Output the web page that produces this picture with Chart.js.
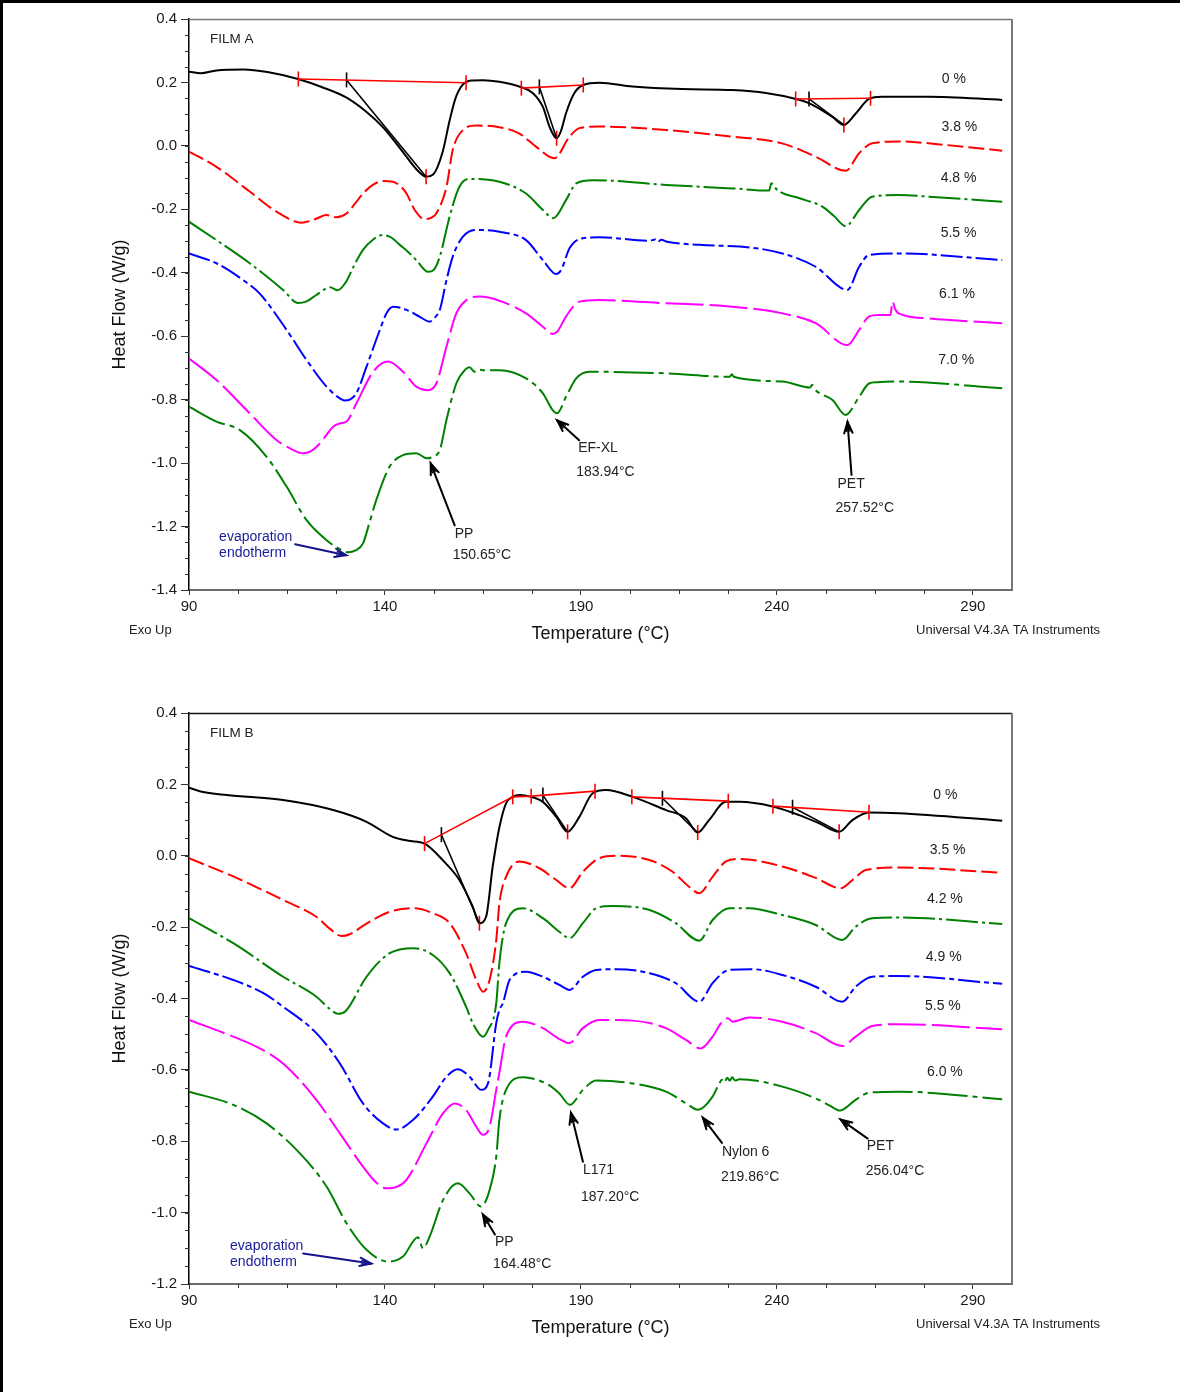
<!DOCTYPE html>
<html>
<head>
<meta charset="utf-8">
<title>DSC thermograms – Film A and Film B</title>
<script src="https://cdn.jsdelivr.net/npm/chart.js@4.4.0/dist/chart.umd.min.js"></script>
<style>
  html, body { margin: 0; padding: 0; background: #fff; }
  body { width: 1180px; height: 1392px; position: relative; overflow: hidden; }
  canvas { position: absolute; left: 0; }
  #edgeTop { position: absolute; left: 0; top: 0; width: 1180px; height: 3px; background: #000; }
  #edgeLeft { position: absolute; left: 0; top: 0; width: 3px; height: 1392px; background: #000; }
</style>
</head>
<body>
<canvas id="filmA" width="1180" height="696" style="top:0px"></canvas>
<canvas id="filmB" width="1180" height="696" style="top:694px"></canvas>
<div id="edgeTop"></div>
<div id="edgeLeft"></div>
<script>
// ---------------------------------------------------------------------------
// Data: heat flow (W/g) against temperature (°C), one array per loading
// ---------------------------------------------------------------------------
const TEMPERATURE_TICKS = [90, 140, 190, 240, 290];
const FILM_A_HF_TICKS = [-1.4, -1.2, -1.0, -0.8, -0.6, -0.4, -0.2, 0.0, 0.2, 0.4];
const FILM_B_HF_TICKS = [-1.2, -1.0, -0.8, -0.6, -0.4, -0.2, 0.0, 0.2, 0.4];

const FILM_A_LOADINGS = ['0 %', '3.8 %', '4.8 %', '5.5 %', '6.1 %', '7.0 %'];
const FILM_B_LOADINGS = ['0 %', '3.5 %', '4.2 %', '4.9 %', '5.5 %', '6.0 %'];

const filmA_0 = [[90,0.234],[93,0.229],[97,0.238],[104,0.241],[110,0.233],[117.8,0.211],[124,0.185],[130.2,0.152],[135,0.11],[139.4,0.06],[144,-0.01],[148.5,-0.08],[150.5,-0.097],[152.3,-0.09],[154.7,-0.02],[156.5,0.08],[158,0.15],[159.8,0.192],[162,0.206],[165,0.207],[169.2,0.202],[174.8,0.185],[177.7,0.167],[180.3,0.123],[182,0.06],[183.8,0.024],[185,0.05],[186.2,0.103],[188.3,0.166],[190.6,0.192],[194.7,0.199],[203.2,0.187],[215.9,0.179],[228.6,0.176],[237.2,0.167],[244.9,0.148],[248.2,0.135],[254.1,0.092],[257.1,0.066],[260.2,0.103],[263.5,0.148],[266.8,0.155],[278.8,0.155],[297.5,0.145]];
const filmA_38 = [[90,-0.018],[97,-0.066],[105.5,-0.144],[112.3,-0.207],[118.7,-0.242],[122,-0.232],[125.1,-0.218],[127.6,-0.225],[130.2,-0.213],[132.5,-0.18],[134.4,-0.15],[137,-0.122],[139.5,-0.111],[142,-0.113],[144,-0.128],[145.5,-0.15],[147.6,-0.202],[150.1,-0.231],[152,-0.225],[153.1,-0.213],[155.7,-0.129],[157.3,-0.013],[159.9,0.05],[163.3,0.064],[169.2,0.059],[174.3,0.039],[178.6,-0.003],[183.2,-0.039],[187.1,0.029],[189.6,0.056],[194.7,0.061],[211.7,0.05],[228.6,0.029],[241.3,0.008],[249.9,-0.034],[257.6,-0.078],[261,-0.023],[264.3,0.008],[271.1,0.014],[283,0.003],[297.5,-0.015]];
const filmA_48 = [[90,-0.239],[97,-0.297],[105.5,-0.37],[114,-0.454],[117.8,-0.495],[120,-0.49],[122.5,-0.47],[126,-0.446],[128,-0.455],[130,-0.43],[132,-0.38],[134.4,-0.328],[137,-0.295],[139.4,-0.281],[141.5,-0.288],[143.8,-0.312],[146,-0.335],[148,-0.36],[151,-0.397],[152.5,-0.39],[154,-0.349],[156.5,-0.223],[159,-0.129],[161.6,-0.104],[165,-0.105],[169.2,-0.113],[176,-0.15],[180.3,-0.202],[183,-0.228],[186.2,-0.171],[188.8,-0.118],[193,-0.108],[211.7,-0.123],[228.7,-0.134],[238,-0.141],[238.6,-0.118],[239.3,-0.128],[240.3,-0.141],[245.8,-0.165],[251.7,-0.192],[254.5,-0.22],[257.6,-0.253],[261,-0.202],[264.3,-0.16],[271.1,-0.155],[278.8,-0.16],[297.5,-0.176]];
const filmA_55 = [[90,-0.339],[97,-0.37],[103.8,-0.423],[108,-0.465],[114.9,-0.58],[120,-0.675],[125.1,-0.759],[128.5,-0.796],[129.7,-0.803],[131,-0.8],[132.7,-0.78],[135.3,-0.696],[138.7,-0.58],[140.5,-0.525],[142.1,-0.507],[145.5,-0.517],[148.9,-0.539],[151.4,-0.554],[152.8,-0.54],[154,-0.517],[155.7,-0.423],[157.3,-0.349],[159.9,-0.286],[163.3,-0.265],[169.2,-0.271],[176,-0.297],[180.3,-0.36],[183.7,-0.404],[185,-0.39],[187.1,-0.323],[190.5,-0.291],[194.7,-0.288],[207.5,-0.299],[209,-0.295],[209.6,-0.303],[210.5,-0.296],[212,-0.302],[220.2,-0.312],[233,-0.32],[241.4,-0.339],[249.9,-0.381],[258,-0.454],[261,-0.381],[263.5,-0.344],[271.1,-0.339],[297.5,-0.36]];
const filmA_61 = [[90,-0.67],[97,-0.738],[105.5,-0.843],[112.3,-0.927],[116,-0.955],[119.1,-0.969],[121,-0.963],[123.4,-0.938],[126.8,-0.885],[128.5,-0.875],[130.2,-0.869],[132.7,-0.812],[137,-0.712],[140.8,-0.68],[144.6,-0.712],[148,-0.759],[151,-0.77],[153.1,-0.749],[155.7,-0.633],[158.2,-0.528],[160.8,-0.486],[164.1,-0.475],[169.2,-0.488],[176,-0.528],[180.3,-0.57],[182.8,-0.593],[184,-0.585],[186.2,-0.538],[189.6,-0.491],[194.7,-0.486],[211.7,-0.496],[228.7,-0.507],[241.4,-0.528],[249.9,-0.559],[258,-0.628],[261,-0.58],[263.5,-0.538],[266,-0.533],[269,-0.533],[269.5,-0.491],[270.2,-0.515],[271.1,-0.528],[278.8,-0.544],[297.5,-0.559]];
const filmA_70 = [[90,-0.822],[97,-0.869],[103,-0.896],[109.8,-0.98],[114.9,-1.074],[120,-1.18],[125.1,-1.243],[128,-1.268],[130.6,-1.281],[132.5,-1.275],[134.4,-1.253],[136,-1.19],[137.8,-1.116],[141.2,-1.011],[144.6,-0.975],[148,-0.969],[150.65,-0.985],[152.5,-0.978],[154,-0.959],[155.7,-0.864],[158.2,-0.749],[160.5,-0.705],[161.6,-0.698],[162.9,-0.712],[163.6,-0.705],[165,-0.707],[169.2,-0.707],[176,-0.733],[180.3,-0.78],[182.8,-0.833],[183.94,-0.843],[186.2,-0.791],[188.8,-0.733],[192.2,-0.712],[211.7,-0.717],[228,-0.728],[228.5,-0.72],[229,-0.728],[241.4,-0.743],[248.5,-0.762],[249,-0.753],[249.6,-0.766],[254.2,-0.801],[257.52,-0.848],[261,-0.791],[263.5,-0.749],[265.5,-0.745],[271.1,-0.743],[297.5,-0.764]];

const filmB_0 = [[90,0.191],[93,0.18],[99.6,0.17],[114,0.156],[126.8,0.128],[135.3,0.095],[142,0.053],[146,0.042],[150.1,0.034],[154.8,-0.013],[159,-0.068],[162.4,-0.143],[164.1,-0.189],[165.8,-0.171],[167.5,-0.03],[169.2,0.08],[170.9,0.147],[172.6,0.165],[174.3,0.17],[177.3,0.165],[180.3,0.151],[183.7,0.109],[186.6,0.067],[189.6,0.109],[193,0.175],[196.4,0.184],[203.2,0.165],[211.7,0.128],[216.8,0.105],[219.8,0.065],[222.7,0.1],[227,0.151],[230.4,0.151],[238.9,0.138],[245.7,0.114],[250.8,0.091],[255.9,0.067],[259.3,0.1],[263.5,0.121],[271.1,0.119],[297.5,0.098]];
const filmB_35 = [[90,-0.007],[101.3,-0.058],[114,-0.124],[122.5,-0.171],[126,-0.205],[128.9,-0.225],[131,-0.22],[135.3,-0.19],[141.2,-0.157],[147.6,-0.147],[152.2,-0.161],[156.5,-0.189],[160.7,-0.273],[163.3,-0.348],[165,-0.381],[166.7,-0.348],[168.4,-0.236],[169.2,-0.134],[170.9,-0.059],[174.3,-0.016],[179.4,-0.035],[183.7,-0.068],[187.1,-0.091],[190.5,-0.045],[194.7,-0.007],[199,0],[207.5,-0.012],[213.4,-0.045],[217.6,-0.087],[220.2,-0.105],[223.6,-0.059],[227,-0.016],[230.4,-0.009],[241.4,-0.03],[249.9,-0.062],[256.3,-0.091],[259.3,-0.068],[262.7,-0.04],[271.1,-0.033],[297.5,-0.048]];
const filmB_42 = [[90,-0.175],[101.3,-0.245],[114,-0.339],[122.5,-0.395],[126,-0.43],[128,-0.443],[130,-0.435],[135.3,-0.339],[141.2,-0.273],[147.2,-0.259],[152.2,-0.278],[156.5,-0.329],[160.7,-0.423],[162.4,-0.469],[165,-0.507],[166.3,-0.488],[168.4,-0.413],[169.2,-0.3],[170.9,-0.189],[175.2,-0.147],[180.3,-0.175],[184.5,-0.213],[187.1,-0.231],[190.5,-0.189],[193.9,-0.147],[198.1,-0.141],[207.5,-0.152],[214.2,-0.189],[220.2,-0.238],[223.6,-0.18],[227.8,-0.147],[232.9,-0.147],[241.4,-0.166],[249.9,-0.194],[256.7,-0.236],[260.1,-0.199],[264.3,-0.175],[271.1,-0.173],[297.5,-0.191]];
const filmB_49 = [[90,-0.309],[101.3,-0.348],[109,-0.385],[114,-0.423],[122.5,-0.497],[128.5,-0.582],[134.4,-0.694],[139.5,-0.75],[142.9,-0.767],[147.2,-0.74],[152.2,-0.675],[155.7,-0.619],[158.6,-0.598],[161.6,-0.619],[164.6,-0.656],[166.3,-0.638],[168.4,-0.469],[169.2,-0.432],[170.1,-0.413],[171.8,-0.348],[176,-0.325],[180.3,-0.339],[184.5,-0.362],[187.1,-0.376],[190.5,-0.339],[193.9,-0.32],[199,-0.318],[207.5,-0.329],[214.2,-0.357],[220.2,-0.409],[223.6,-0.357],[227.8,-0.32],[233.8,-0.318],[241.4,-0.334],[249.9,-0.367],[256.7,-0.409],[260.1,-0.367],[264.3,-0.339],[271.1,-0.337],[297.5,-0.359]];
const filmB_55 = [[90,-0.46],[101.3,-0.507],[107.2,-0.535],[114,-0.582],[122.5,-0.684],[128.5,-0.778],[134.4,-0.871],[138,-0.918],[140.4,-0.932],[143,-0.928],[145.5,-0.908],[150.6,-0.806],[154.8,-0.722],[157.8,-0.694],[160.7,-0.712],[163.3,-0.759],[165,-0.782],[166.7,-0.759],[168.4,-0.656],[169.2,-0.608],[170.9,-0.507],[175.2,-0.465],[180.3,-0.483],[184,-0.51],[187.1,-0.525],[190.5,-0.483],[194.7,-0.46],[203.2,-0.462],[211.7,-0.483],[216.8,-0.516],[220.6,-0.54],[223.6,-0.507],[225.7,-0.47],[227.5,-0.455],[228.7,-0.465],[232.9,-0.453],[241.4,-0.465],[249.9,-0.497],[256.7,-0.533],[260.1,-0.507],[264.3,-0.477],[271.1,-0.472],[297.5,-0.486]];
const filmB_60 = [[90,-0.661],[101.3,-0.698],[109.8,-0.75],[118.3,-0.834],[125.1,-0.927],[130.2,-1.03],[135.3,-1.104],[140.8,-1.137],[144.6,-1.123],[148.4,-1.069],[149.7,-1.1],[151.4,-1.067],[154.8,-0.965],[158.6,-0.918],[161.6,-0.946],[164.48,-0.983],[166.7,-0.937],[168.4,-0.843],[169.2,-0.74],[170.9,-0.656],[175.2,-0.621],[181.1,-0.638],[184.5,-0.666],[187.2,-0.698],[190.5,-0.656],[193.9,-0.63],[203.2,-0.638],[211.7,-0.661],[217,-0.695],[219.86,-0.712],[223.6,-0.675],[225.3,-0.638],[226,-0.628],[226.6,-0.636],[227.3,-0.622],[228,-0.63],[228.6,-0.621],[229.4,-0.63],[230.4,-0.626],[241.4,-0.647],[249.9,-0.68],[253.5,-0.7],[256.04,-0.714],[260.1,-0.684],[263.5,-0.664],[271.1,-0.661],[297.5,-0.682]];

// Peak construction on the unfilled film: baselines, onset tangents, peak marks
const filmA_baselines = [[[117.9,0.211],[160.7,0.199]], [[174.8,0.182],[190.6,0.192]], [[244.8,0.148],[263.9,0.150]]];
const filmA_tangents  = [[[130.2,0.208],[150.5,-0.097]], [[179.4,0.186],[183.8,0.024]], [[248.2,0.148],[257.1,0.066]]];
const filmA_peakMarks = [[150.5,-0.097], [183.8,0.024], [257.1,0.066]];
const filmB_baselines = [[[150.1,0.034],[172.6,0.165],[177.3,0.167],[193.6,0.181]], [[203.0,0.165],[227.6,0.153]], [[239.0,0.139],[263.5,0.122]]];
const filmB_tangents  = [[[154.4,0.059],[164.1,-0.189]], [[180.3,0.170],[186.6,0.067]], [[210.8,0.161],[219.8,0.065]], [[244.0,0.136],[255.9,0.067]]];
const filmB_peakMarks = [[164.1,-0.189], [186.6,0.067], [219.8,0.065], [255.9,0.067]];

// Labelled melting peaks on the highest loading of each film
const FILM_A_PEAK_NAMES = ['PP', 'EF-XL', 'PET'];
const FILM_A_PEAK_TEMPS = [150.65, 183.94, 257.52];
const FILM_B_PEAK_NAMES = ['PP', 'L171', 'Nylon 6', 'PET'];
const FILM_B_PEAK_TEMPS = [164.48, 187.20, 219.86, 256.04];

// ---------------------------------------------------------------------------
// Drawing
// ---------------------------------------------------------------------------
const FONT = '"Liberation Sans", Arial, Helvetica, sans-serif';
Chart.defaults.font.family = FONT;

const LINE_STYLES = [
  { color: '#000000', dash: [] },
  { color: '#ff0000', dash: [16, 5] },
  { color: '#008000', dash: [32, 4, 3, 4] },
  { color: '#0000ff', dash: [22, 4, 5, 4] },
  { color: '#ff00ff', dash: [38, 6] },
  { color: '#008000', dash: [40, 5, 5, 5] }
];

function toXY(pairs) { return pairs.map(p => ({ x: p[0], y: p[1] })); }

function tickLine(points, color, tickFlags) {
  return {
    data: toXY(points),
    borderColor: color,
    borderWidth: 1.6,
    tension: 0,
    pointStyle: 'line',
    pointRotation: 90,
    pointRadius: tickFlags,
    pointBorderColor: color,
    pointBorderWidth: 1.6,
    pointHoverRadius: 0,
    order: 0
  };
}

function minorTicks(chart, yStep) {
  const { ctx, scales: { x, y }, chartArea: ca } = chart;
  ctx.save();
  ctx.strokeStyle = '#333';
  ctx.lineWidth = 1;
  ctx.beginPath();
  for (let v = y.min; v <= y.max + 1e-9; v += yStep) {
    const py = Math.round(y.getPixelForValue(v)) + 0.5;
    ctx.moveTo(ca.left - 4, py); ctx.lineTo(ca.left, py);
  }
  for (let t = x.min; t <= x.max + 1e-9; t += 12.5) {
    if (TEMPERATURE_TICKS.includes(t)) continue;
    const px = Math.round(x.getPixelForValue(t)) + 0.5;
    ctx.moveTo(px, ca.bottom); ctx.lineTo(px, ca.bottom + 4);
  }
  ctx.stroke();
  ctx.restore();
}

function arrow(ctx, x1, y1, x2, y2, color) {
  ctx.strokeStyle = color;
  ctx.lineWidth = 2;
  ctx.lineCap = 'round';
  ctx.beginPath(); ctx.moveTo(x1, y1); ctx.lineTo(x2, y2); ctx.stroke();
  const a = Math.atan2(y2 - y1, x2 - x1), L = 12, w = 0.36;
  ctx.beginPath();
  ctx.moveTo(x2 - L * Math.cos(a - w), y2 - L * Math.sin(a - w));
  ctx.lineTo(x2, y2);
  ctx.lineTo(x2 - L * Math.cos(a + w), y2 - L * Math.sin(a + w));
  ctx.stroke();
  ctx.beginPath();
  ctx.moveTo(x2 - 0.8 * L * Math.cos(a - w * 0.55), y2 - 0.8 * L * Math.sin(a - w * 0.55));
  ctx.lineTo(x2, y2);
  ctx.lineTo(x2 - 0.8 * L * Math.cos(a + w * 0.55), y2 - 0.8 * L * Math.sin(a + w * 0.55));
  ctx.lineWidth = 1.4;
  ctx.stroke();
}

function annotationPlugin(spec) {
  return {
    id: 'annotations',
    afterDatasetsDraw(chart) {
      const { ctx, scales: { x, y }, chartArea: ca } = chart;
      ctx.save();
      // plot frame: top and right edges
      ctx.lineWidth = 1.5;
      ctx.strokeStyle = spec.topColor;
      ctx.beginPath(); ctx.moveTo(ca.left, ca.top + 0.5); ctx.lineTo(ca.right, ca.top + 0.5); ctx.stroke();
      ctx.lineWidth = 2;
      ctx.strokeStyle = '#777';
      ctx.beginPath(); ctx.moveTo(ca.right, ca.top); ctx.lineTo(ca.right, ca.bottom); ctx.stroke();

      ctx.textBaseline = 'middle';
      ctx.textAlign = 'left';
      ctx.fillStyle = '#222';
      ctx.font = '13.5px ' + FONT;
      ctx.fillText(spec.title, ca.left + 21, ca.top + 20);

      // loading labels at the right of each trace
      ctx.font = '14px ' + FONT;
      spec.loadings.forEach((txt, i) => {
        const p = spec.loadingPos[i];
        ctx.fillText(txt, x.getPixelForValue(p[0]), y.getPixelForValue(p[1]));
      });

      // peak arrows and labels
      spec.peakNames.forEach((name, i) => {
        const t = spec.peakTemps[i];
        const pt = spec.peakCurve.find(p => p[0] === t);
        const px = x.getPixelForValue(pt[0]), py = y.getPixelForValue(pt[1]);
        const o = spec.peakOffsets[i];
        arrow(ctx, px + o.tail[0], py + o.tail[1], px + o.head[0], py + o.head[1], '#000');
        ctx.fillStyle = '#222';
        ctx.font = '14px ' + FONT;
        ctx.fillText(name, px + o.name[0], py + o.name[1]);
        ctx.fillText(t.toFixed(2) + '°C', px + o.temp[0], py + o.temp[1]);
      });

      // evaporation endotherm note, anchored at the deepest point of the last trace
      const deep = spec.peakCurve.reduce((m, p) => (p[1] < m[1] ? p : m));
      const ex = x.getPixelForValue(deep[0]), ey = y.getPixelForValue(deep[1]);
      const e = spec.evap;
      arrow(ctx, ex + e.tail[0], ey + e.tail[1], ex + e.head[0], ey + e.head[1], '#14148c');
      ctx.fillStyle = '#1c1c96';
      ctx.font = '14px ' + FONT;
      ctx.fillText('evaporation', ex + e.text[0], ey + e.text[1]);
      ctx.fillText('endotherm', ex + e.text[0], ey + e.text[1] + 16);

      // footer texts
      ctx.fillStyle = '#222';
      ctx.font = '13px ' + FONT;
      ctx.fillText('Exo Up', 129, ca.bottom + 40.5);
      ctx.textAlign = 'right';
      ctx.fillText('Universal V4.3A TA Instruments', 1100, ca.bottom + 40);
      ctx.restore();
    },
    afterDraw(chart) { minorTicks(chart, 0.05); }
  };
}

function buildFilm(canvasId, curves, hfTicks, baselines, tangents, marks, spec) {
  const datasets = [];
  baselines.forEach(b => datasets.push(tickLine(b, '#ff0000', b.map(() => 7.5))));
  tangents.forEach(t => datasets.push(tickLine(t, '#000000', [7.5, 0])));
  marks.forEach(m => datasets.push(tickLine([m], '#ff0000', [7.5])));
  curves.forEach((c, i) => datasets.push({
    data: toXY(c),
    borderColor: LINE_STYLES[i].color,
    borderDash: LINE_STYLES[i].dash,
    borderWidth: 2,
    borderJoinStyle: 'round',
    pointRadius: 0,
    pointHoverRadius: 0,
    cubicInterpolationMode: 'monotone',
    fill: false,
    order: 1
  }));

  return new Chart(document.getElementById(canvasId), {
    type: 'line',
    data: { datasets },
    options: {
      responsive: false,
      animation: false,
      devicePixelRatio: 1,
      events: [],
      layout: { padding: { top: 19, right: 168, left: 0, bottom: 0 } },
      plugins: { legend: { display: false }, tooltip: { enabled: false } },
      scales: {
        x: {
          type: 'linear', min: 90, max: 300,
          afterBuildTicks: s => { s.ticks = TEMPERATURE_TICKS.map(v => ({ value: v })); },
          afterFit: s => { s.height = 106; },
          grid: { drawOnChartArea: false, drawTicks: true, tickLength: 5, tickColor: '#333', tickWidth: 1 },
          border: { display: true, color: '#6b6b6b', width: 2 },
          ticks: { color: '#1a1a1a', font: { size: 15 }, padding: 3, maxRotation: 0, autoSkip: false, callback: v => String(v) },
          title: { display: true, text: 'Temperature (°C)', color: '#111', font: { size: 18 }, padding: { top: 0, bottom: 51 } }
        },
        y: {
          type: 'linear', min: hfTicks[0], max: hfTicks[hfTicks.length - 1],
          afterBuildTicks: s => { s.ticks = hfTicks.map(v => ({ value: v })); },
          afterFit: s => { s.width = 189; },
          grid: { drawOnChartArea: false, drawTicks: true, tickLength: 8, tickColor: '#333', tickWidth: 1 },
          border: { display: true, color: '#000', width: 1.5 },
          ticks: { color: '#1a1a1a', font: { size: 15 }, padding: 4, autoSkip: false, callback: v => v.toFixed(1) },
          title: { display: true, text: 'Heat Flow (W/g)', color: '#111', font: { size: 18 }, padding: { top: 109, bottom: 0 } }
        }
      }
    },
    plugins: [annotationPlugin(spec)]
  });
}

buildFilm('filmA',
  [filmA_0, filmA_38, filmA_48, filmA_55, filmA_61, filmA_70],
  FILM_A_HF_TICKS, filmA_baselines, filmA_tangents, filmA_peakMarks,
  {
    title: 'FILM A',
    topColor: '#777',
    loadings: FILM_A_LOADINGS,
    loadingPos: [[282.1, 0.21], [282.0, 0.059], [281.8, -0.102], [281.8, -0.276], [281.4, -0.467], [281.2, -0.675]],
    peakNames: FILM_A_PEAK_NAMES,
    peakTemps: FILM_A_PEAK_TEMPS,
    peakCurve: filmA_70,
    peakOffsets: [
      { head: [4, 5], tail: [28, 67], name: [28, 76], temp: [26, 97] },
      { head: [0, 7], tail: [22, 27], name: [21, 35], temp: [19, 59] },
      { head: [2, 7], tail: [6, 60], name: [-8, 69], temp: [-10, 93] }
    ],
    evap: { head: [-2, 3], tail: [-53, -8], text: [-129, -15] }
  });

buildFilm('filmB',
  [filmB_0, filmB_35, filmB_42, filmB_49, filmB_55, filmB_60],
  FILM_B_HF_TICKS, filmB_baselines, filmB_tangents, filmB_peakMarks,
  {
    title: 'FILM B',
    topColor: '#111',
    loadings: FILM_B_LOADINGS,
    loadingPos: [[279.9, 0.169], [279.0, 0.015], [278.3, -0.122], [278.0, -0.285], [277.8, -0.421], [278.3, -0.607]],
    peakNames: FILM_B_PEAK_NAMES,
    peakTemps: FILM_B_PEAK_TEMPS,
    peakCurve: filmB_60,
    peakOffsets: [
      { head: [2, 8], tail: [14, 28], name: [14, 36], temp: [12, 58] },
      { head: [1, 8], tail: [13, 57], name: [13, 65], temp: [11, 92] },
      { head: [5, 8], tail: [24, 33], name: [24, 42], temp: [23, 67] },
      { head: [1, 9], tail: [28, 28], name: [27, 36], temp: [26, 61] }
    ],
    evap: { head: [-17, 2], tail: [-85, -8], text: [-158, -15] }
  });
</script>
</body>
</html>
